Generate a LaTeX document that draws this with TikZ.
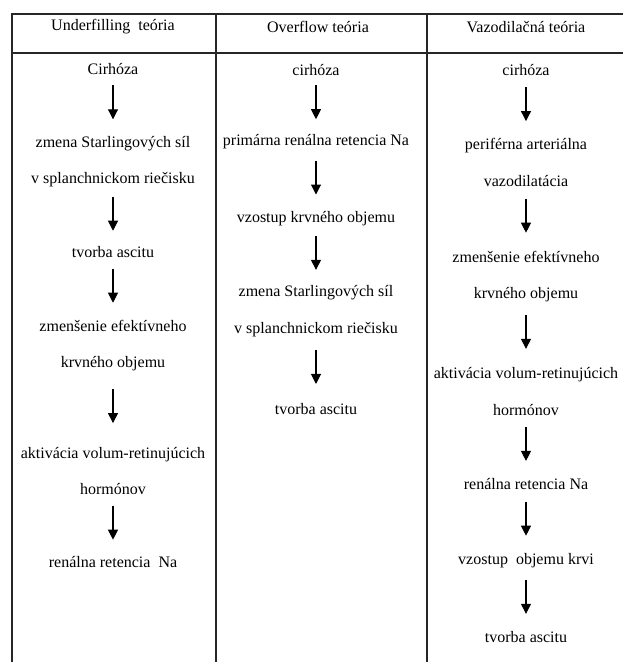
\documentclass[tikz,border=0pt]{standalone}
\usepackage{fontspec}
\setmainfont{Liberation Serif}
\usetikzlibrary{positioning,arrows.meta,calc}

\begin{document}
\begin{tikzpicture}[
  x=0.75pt, y=-0.75pt,
  every node/.style={font=\fontsize{12}{27.5}\selectfont},
  steptext/.style={align=center, inner sep=0pt},
  rule/.style={line width=0.8pt, black!85},
  arrow/.style={-{Triangle[length=7.5pt,width=7.5pt]}, line width=0.8pt}
]
\useasboundingbox (0,0) rectangle (623,662);

% table lines
\draw[rule] (623,14) -- (12,14) -- (12,662);
\draw[rule] (12,53) -- (623,53);
\draw[rule] (216,14) -- (216,662);
\draw[rule] (427,14) -- (427,662);

% headers
\node[steptext] (h1) at (113,27) {Underfilling\ \ teória};
\node[steptext] (h2) at (318,27) {Overflow teória};
\node[steptext] (h3) at (526,27) {Vazodilačná teória};

% underfilling
\node[steptext] (u0) at (113,69) {Cirhóza};
\node[steptext] (u1) at (113,161.5) {zmena Starlingových síl\\v splanchnickom riečisku};
\node[steptext] (u2) at (113,252) {tvorba ascitu};
\node[steptext] (u3) at (113,345.5) {zmenšenie efektívneho\\krvného objemu};
\node[steptext] (u4) at (113,471) {aktivácia volum-retinujúcich\\hormónov};
\node[steptext] (u5) at (113,562) {renálna retencia\ \ Na};

% overflow
\node[steptext] (o0) at (316,70) {cirhóza};
\node[steptext] (o1) at (316,142) {primárna renálna retencia Na};
\node[steptext] (o2) at (316,219) {vzostup krvného objemu};
\node[steptext] (o3) at (316,311) {zmena Starlingových síl\\v splanchnickom riečisku};
\node[steptext] (o4) at (316,409) {tvorba ascitu};

% vazodilatacna
\node[steptext] (v0) at (526,70) {cirhóza};
\node[steptext] (v1) at (526,162.5) {periférna arteriálna\\vazodilatácia};
\node[steptext] (v2) at (526,276.5) {zmenšenie efektívneho\\krvného objemu};
\node[steptext] (v3) at (526,391.5) {aktivácia volum-retinujúcich\\hormónov};
\node[steptext] (v4) at (526,484) {renálna retencia Na};
\node[steptext] (v5) at (526,561) {vzostup\ \ objemu krvi};
\node[steptext] (v6) at (526,637) {tvorba ascitu};

% arrows, 34px long, in the gap between two steps
\foreach \a/\b in {u0/u1,u1/u2,u2/u3,u3/u4,u4/u5,
                   o0/o1,o1/o2,o2/o3,o3/o4,
                   v0/v1,v1/v2,v2/v3,v3/v4,v4/v5,v5/v6}
  \draw[arrow] ($(\a.south)!0.5!(\b.north)+(0,-20)$) -- ++(0,34);
\end{tikzpicture}
\end{document}
